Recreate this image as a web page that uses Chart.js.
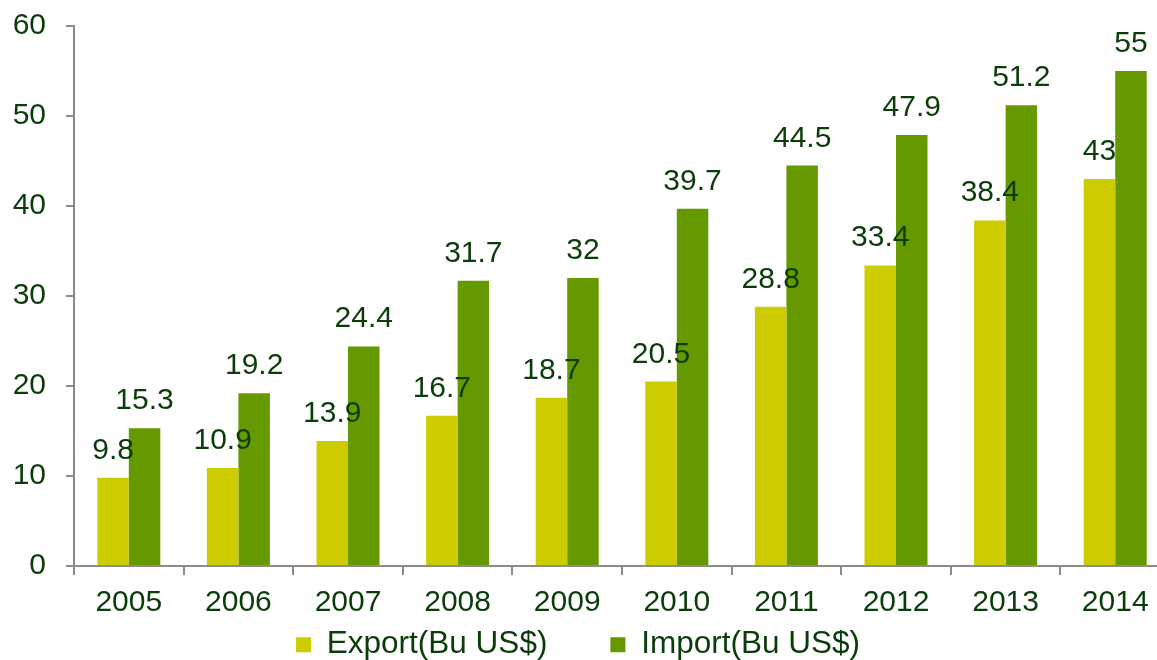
<!DOCTYPE html>
<html>
<head>
<meta charset="utf-8">
<script src="https://cdn.jsdelivr.net/npm/chart.js@4/dist/chart.umd.min.js"></script>
<style>
  html, body { margin: 0; padding: 0; background: #fff; overflow: hidden; }
  #wrap { width: 1157px; height: 660px; overflow: hidden; }
</style>
</head>
<body>
<div id="wrap"><canvas id="myChart" width="1170" height="660"></canvas></div>
<script>
const years = ['2005', '2006', '2007', '2008', '2009', '2010', '2011', '2012', '2013', '2014'];
const exportVals = [9.8, 10.9, 13.9, 16.7, 18.7, 20.5, 28.8, 33.4, 38.4, 43];
const importVals = [15.3, 19.2, 24.4, 31.7, 32, 39.7, 44.5, 47.9, 51.2, 55];

const textColor = '#0b3d0b';
const axisColor = '#8c8c8c';
const fontFam = '"Liberation Sans", Arial, sans-serif';
const legendGap = 63;

// draws the number over every bar
const valueLabels = {
  id: 'valueLabels',
  afterDatasetsDraw(chart) {
    const c = chart.ctx;
    c.save();
    c.font = '30px ' + fontFam;
    c.fillStyle = textColor;
    c.textAlign = 'center';
    c.textBaseline = 'alphabetic';
    chart.data.datasets.forEach((ds, i) => {
      chart.getDatasetMeta(i).data.forEach((bar, j) => {
        c.fillText(String(ds.data[j]), bar.x, bar.y - 19);
      });
    });
    c.restore();
  }
};

// the legend needs a wide gap between its two items, but the padding option
// also makes it very tall -> keep its layout height small and place it by hand.
// canvas is a bit wider than the page (last category is cut off), so also
// pull the legend back to the page centre
const legendFix = {
  id: 'legendFix',
  beforeLayout(chart) {
    const lg = chart.legend;
    if (lg && !lg._fixed) {
      const fit = lg.fit.bind(lg);
      lg.fit = function () { fit(); this.height = 44; };
      lg._fixed = true;
    }
  },
  afterLayout(chart) {
    const lg = chart.legend;
    lg.left -= 7;
    lg.right -= 7;
    lg.top = 629 - legendGap;
    lg.bottom = chart.height;
  }
};

const ctx = document.getElementById('myChart').getContext('2d');
const myChart = new Chart(ctx, {
  type: 'bar',
  data: {
    labels: years,
    datasets: [
      {
        label: 'Export(Bu US$)',
        data: exportVals,
        backgroundColor: '#cccc00',
        categoryPercentage: 0.575,
        barPercentage: 1.0
      },
      {
        label: 'Import(Bu US$)',
        data: importVals,
        backgroundColor: '#669900',
        categoryPercentage: 0.575,
        barPercentage: 1.0
      }
    ]
  },
  options: {
    responsive: false,
    animation: false,
    layout: { padding: { top: 26, right: 0, left: 0, bottom: 0 } },
    plugins: {
      tooltip: { enabled: false },
      legend: {
        position: 'bottom',
        labels: {
          color: textColor,
          font: { family: fontFam, size: 31.5 },
          boxWidth: 15,
          boxHeight: 15,
          padding: legendGap
        }
      }
    },
    scales: {
      x: {
        offset: true,
        grid: {
          offset: true,
          drawOnChartArea: false,
          drawTicks: true,
          tickLength: 9,
          color: axisColor,
          lineWidth: 2
        },
        border: { color: axisColor, width: 2 },
        ticks: {
          color: textColor,
          font: { family: fontFam, size: 30 },
          padding: 10,
          maxRotation: 0
        },
        afterFit(scale) {
          scale.height = 50;
          scale.paddingLeft = 0;
          scale.paddingRight = 0;
        }
      },
      y: {
        min: 0,
        max: 60,
        grid: {
          drawOnChartArea: false,
          drawTicks: true,
          tickLength: 8,
          color: axisColor,
          lineWidth: 2
        },
        border: { color: axisColor, width: 2 },
        ticks: {
          stepSize: 10,
          color: textColor,
          font: { family: fontFam, size: 30 },
          padding: 20
        },
        afterFit(scale) {
          scale.width = 74;
          scale.paddingTop = 0;
          scale.paddingBottom = 0;
        }
      }
    }
  },
  plugins: [valueLabels, legendFix]
});
</script>
</body>
</html>
